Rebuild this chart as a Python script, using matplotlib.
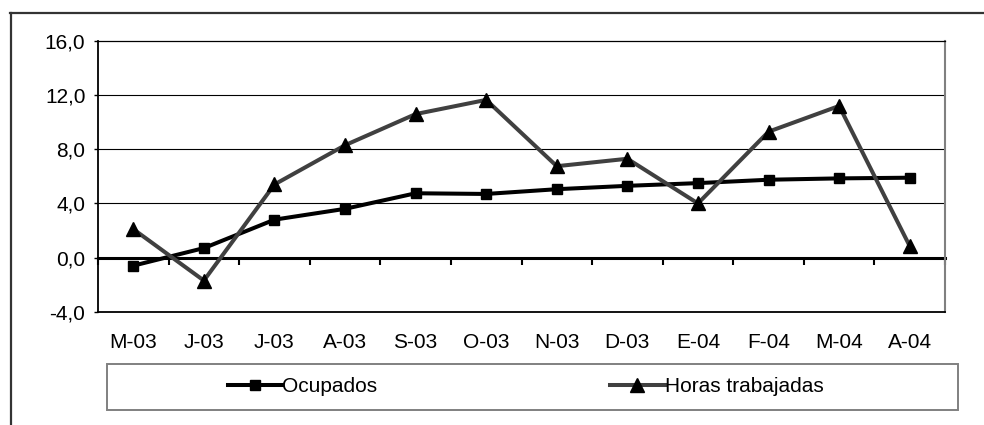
import matplotlib
matplotlib.use("Agg")
import matplotlib.pyplot as plt
from matplotlib.lines import Line2D
from matplotlib.patches import Rectangle

plt.rcParams['font.family'] = ['Liberation Sans', 'DejaVu Sans']

categories = ["M-03", "J-03", "J-03", "A-03", "S-03", "O-03", "N-03", "D-03",
              "E-04", "F-04", "M-04", "A-04"]
ocupados = [-0.6, 0.7, 2.8, 3.6, 4.75, 4.7, 5.05, 5.3, 5.5, 5.75, 5.85, 5.9]
horas = [2.1, -1.7, 5.4, 8.3, 10.6, 11.65, 6.75, 7.3, 4.0, 9.3, 11.2, 0.85]
ytick_vals = [-4.0, 0.0, 4.0, 8.0, 12.0, 16.0]
ytick_labels = ["-4,0", "0,0", "4,0", "8,0", "12,0", "16,0"]
series_names = ["Ocupados", "Horas trabajadas"]

W, H = 984, 425
fig = plt.figure(figsize=(W / 100, H / 100), dpi=100)

# outer frame lines (top and left)
fig.add_artist(Line2D([10 / W, 1.0], [1 - 12.5 / H, 1 - 12.5 / H], transform=fig.transFigure,
                      color="#333333", lw=1.6))
fig.add_artist(Line2D([10.5 / W, 10.5 / W], [0, 1 - 12.5 / H], transform=fig.transFigure,
                      color="#333333", lw=1.6))

left, right, top, bottom = 98 / W, 945 / W, 1 - 41 / H, 1 - 311.7 / H
ax = fig.add_axes([left, bottom, right - left, top - bottom])

x = list(range(len(categories)))
ax.set_xlim(-0.5, len(categories) - 0.5)
ax.set_ylim(ytick_vals[0], ytick_vals[-1])

for v in ytick_vals[2:-1]:
    ax.axhline(v, color="black", lw=0.8, zorder=1)

l1, = ax.plot(x, ocupados, color="black", lw=2.9, marker="s", markersize=6.8,
              markerfacecolor="black", markeredgecolor="black", zorder=3,
              label=series_names[0])
l2, = ax.plot(x, horas, color="#404040", lw=2.9, marker="^", markersize=10,
              markerfacecolor="black", markeredgecolor="black", zorder=4,
              label=series_names[1])

ax.set_yticks(ytick_vals)
ax.set_yticklabels(ytick_labels, fontsize=15)
ax.tick_params(axis="y", direction="out", length=3, width=1, pad=6, colors="black")

ax.set_xticks(x)
ax.set_xticklabels(categories, fontsize=15)
ax.tick_params(axis="x", length=0, pad=15)

ax.spines["left"].set_linewidth(1.3)
ax.spines["bottom"].set_linewidth(1.3)
ax.spines["top"].set_linewidth(0.9)
ax.spines["right"].set_color("#808080")
ax.spines["right"].set_linewidth(1.5)

# category axis crossing at zero
zero_frac = (0 - ytick_vals[0]) / (ytick_vals[-1] - ytick_vals[0])
sec = ax.secondary_xaxis(zero_frac)
sec.set_xticks([i - 0.5 for i in range(len(categories) + 1)])
sec.tick_params(axis="x", direction="out", length=5, width=1.5, labelbottom=False,
                labeltop=False)
sec.spines["bottom"].set_linewidth(2.2)
sec.set_zorder(2)

# legend box
lx0, lx1, ly0, ly1 = 107 / W, 958 / W, 1 - 410 / H, 1 - 364 / H
fig.add_artist(Rectangle((lx0, ly0), lx1 - lx0, ly1 - ly0, transform=fig.transFigure,
                         facecolor="white", edgecolor="#808080", lw=1.4))
fig.legend(handles=[l1, l2], loc="center", bbox_to_anchor=((lx0 + lx1) / 2 - 7 / W, (ly0 + ly1) / 2),
           ncol=2, frameon=False, fontsize=15, handlelength=2.6, handletextpad=0.0,
           columnspacing=11.2, numpoints=1, borderaxespad=0)

fig.savefig("out.png", dpi=100)
